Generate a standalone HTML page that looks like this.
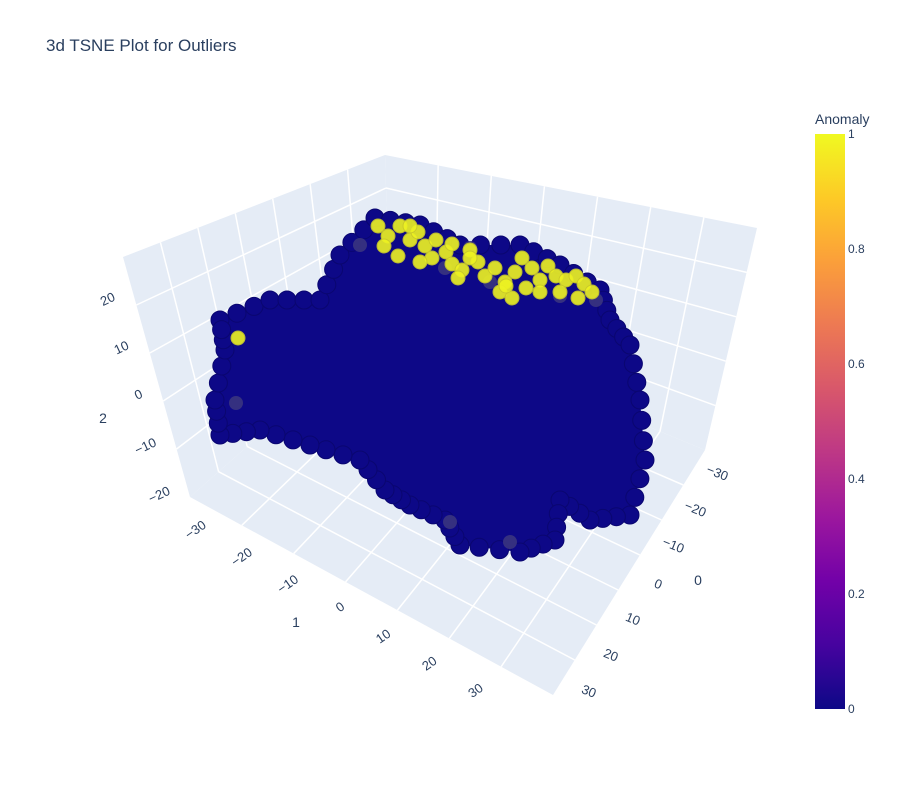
<!DOCTYPE html>
<html><head><meta charset="utf-8"><style>
body{margin:0;background:#fff;font-family:"Liberation Sans",sans-serif}
svg text{font-family:"Liberation Sans",sans-serif;fill:#2a3f5f}
</style></head><body>
<svg id="c" width="900" height="800" xmlns="http://www.w3.org/2000/svg">
<rect width="900" height="800" fill="#fff"/>
<text x="46" y="51" font-size="17">3d TSNE Plot for Outliers</text>
<defs><linearGradient id="pl" x1="0" y1="1" x2="0" y2="0">
<stop offset="0" stop-color="#0d0887"/><stop offset="0.111" stop-color="#46039f"/><stop offset="0.222" stop-color="#7201a8"/><stop offset="0.333" stop-color="#9c179e"/><stop offset="0.444" stop-color="#bd3786"/><stop offset="0.556" stop-color="#d8576b"/><stop offset="0.667" stop-color="#ed7953"/><stop offset="0.778" stop-color="#fb9f3a"/><stop offset="0.889" stop-color="#fdca26"/><stop offset="1" stop-color="#f0f921"/></linearGradient></defs>
<g id="scene"></g>
<g>
<text x="815" y="124" font-size="14">Anomaly</text>
<rect x="815" y="134" width="30" height="575" fill="url(#pl)"/>
<g id="cbt" font-size="12"></g>
</g>
</svg>
<script>
const cbTicks=[0,0.2,0.4,0.6,0.8,1];
const zTicks=["20","10","0","−10","−20"];
const xTicks=["−30","−20","−10","0","10","20","30"];
const yTicks=["30","20","10","0","−10","−20","−30"];
const blobOutline=[[220,320],[270,300],[320,300],[340,255],[375,218],[420,225],[460,245],[520,245],[560,265],[600,290],[610,320],[630,345],[640,400],[645,460],[630,515],[590,520],[560,500],[555,540],[520,552],[460,545],[445,520],[410,505],[385,490],[360,460],[310,445],[260,430],[220,435],[215,400],[225,350]];
const yellowPts=[[378,226],[388,236],[400,226],[410,240],[418,232],[425,246],[436,240],[446,252],[452,264],[462,270],[470,250],[478,262],[485,276],[495,268],[505,282],[515,272],[522,258],[532,268],[540,280],[548,266],[556,276],[566,280],[576,276],[584,284],[592,292],[500,292],[512,298],[458,278],[432,258],[398,256],[384,246],[470,258],[540,292],[578,298],[238,338],[420,262],[506,286],[452,244],[410,226],[560,292],[526,288]];
const grayPts=[[360,245],[445,268],[490,282],[560,296],[596,300],[236,403],[450,522],[510,542],[470,248]];
const NS="http://www.w3.org/2000/svg";
const scene=document.getElementById('scene');
function mk(t,a,p){const e=document.createElementNS(NS,t);for(const k in a)e.setAttribute(k,a[k]);(p||scene).appendChild(e);return e;}
const Lt=[123,257],At=[385,155],Rt=[757,228],Lb=[190,497],Ab=[390,320],Rb=[705,450],F=[553,695];
function lerp(a,b,t){return [a[0]+(b[0]-a[0])*t,a[1]+(b[1]-a[1])*t];}
function plane(p,n){const e=mk('polygon',{points:p.map(q=>q.join(',')).join(' '),fill:'#e5ecf6'});return e;}
plane([Lt,At,Ab,Lb],'left-wall');plane([At,Rt,Rb,Ab],'right-wall');plane([Lb,Ab,Rb,F],'floor');
function grid(a,b,c,d,n){for(let i=1;i<n;i++){const t=i/n;const p=lerp(a,b,t),q=lerp(d,c,t);const l=mk('line',{x1:p[0],y1:p[1],x2:q[0],y2:q[1],stroke:'#fff','stroke-width':1.5});}}
grid(Lt,At,Ab,Lb,7);grid(Lt,Lb,Ab,At,5);grid(At,Rt,Rb,Ab,7);grid(At,Ab,Rb,Rt,5);grid(Lb,Ab,Rb,F,7);grid(Lb,F,Rb,Ab,7);
function txt(x,y,s,fs,rot,name,anchor){const e=mk('text',{x:x,y:y,'font-size':fs,'text-anchor':anchor||'middle'});if(rot)e.setAttribute('transform','rotate('+rot+' '+x+' '+y+')');e.textContent=s;return e;}
zTicks.forEach((s,i)=>{const p=lerp([116,300],[171,494],i/(zTicks.length-1));txt(p[0],p[1],s,13,-25,'z-tick-label','end');});
txt(103,423,"2",14,0,'z-axis-title');
xTicks.forEach((s,i)=>{const p=lerp([207,527],[484,690],i/(xTicks.length-1));txt(p[0],p[1],s,13,-35,'x-tick-label','end');});
txt(296,627,"1",14,0,'x-axis-title');
yTicks.forEach((s,i)=>{const p=lerp([594,698],[726,481],i/(yTicks.length-1));txt(p[0],p[1],s,13,22,'y-tick-label','end');});
txt(698,585,"0",14,0,'y-axis-title');
const blob=mk('polygon',{points:blobOutline.map(q=>q.join(',')).join(' '),fill:'#0d0887'});

for(let i=0;i<blobOutline.length;i++){const a=blobOutline[i],b=blobOutline[(i+1)%blobOutline.length];for(let t=0;t<1;t+=0.34){const p=lerp(a,b,t);const c=mk('circle',{cx:p[0],cy:p[1],r:9,fill:'#0d0887',stroke:'#0a0670','stroke-width':1});}}
grayPts.forEach(p=>{const c=mk('circle',{cx:p[0],cy:p[1],r:7,fill:'#3a3580',opacity:0.9});});
yellowPts.forEach(p=>{const c=mk('circle',{cx:p[0],cy:p[1],r:7,fill:'#eef322',stroke:'#c9c92a','stroke-width':1,opacity:0.9});});
const cbt=document.getElementById('cbt');
cbTicks.forEach(v=>{const y=709-v*575;const e=mk('text',{x:848,y:y+4,'font-size':12},cbt);e.textContent=String(v);});
</script>
</body></html>
